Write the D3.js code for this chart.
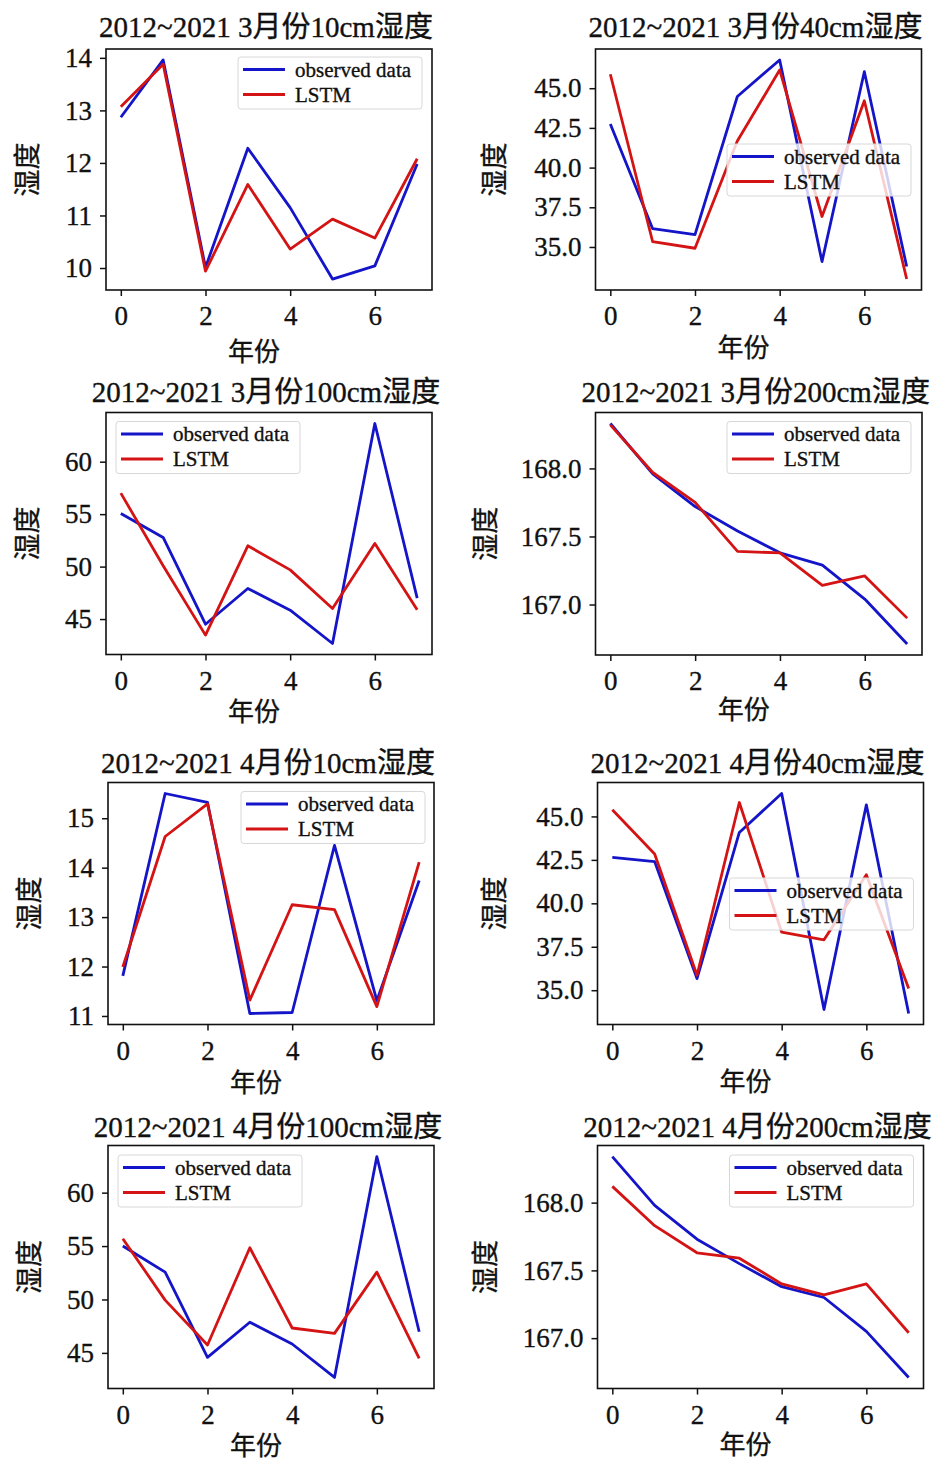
<!DOCTYPE html>
<html>
<head>
<meta charset="utf-8">
<script src="https://cdn.jsdelivr.net/npm/d3@7"></script>
<style>
  body { margin: 0; background: #fff; }
  text { font-family: "Liberation Serif", "Times New Roman", "Noto Sans CJK SC", serif; fill: #111; stroke: #111; stroke-width: 0.35px; }
</style>
</head>
<body>
<div id="chart"></div>
<script>
// x axis: year index
var years = [0, 1, 2, 3, 4, 5, 6, 7]
var xTicks = [0, 2, 4, 6]
var titles = [
  '2012~2021 3月份10cm湿度', '2012~2021 3月份40cm湿度',
  '2012~2021 3月份100cm湿度', '2012~2021 3月份200cm湿度',
  '2012~2021 4月份10cm湿度', '2012~2021 4月份40cm湿度',
  '2012~2021 4月份100cm湿度', '2012~2021 4月份200cm湿度'
]
var seriesNames = ['observed data', 'LSTM']

// observed data
var obs_m3_10 = [12.87, 13.96, 10.01, 12.28, 11.15, 9.79, 10.04, 11.98]
var obs_m3_40 = [42.75, 36.15, 35.78, 44.48, 46.78, 34.08, 46.04, 33.77]
var obs_m3_100 = [55.06, 52.78, 44.51, 47.91, 45.85, 42.67, 63.64, 47.0]
var obs_m3_200 = [168.33, 167.96, 167.72, 167.54, 167.38, 167.29, 167.04, 166.71]
var obs_m4_10 = [11.81, 15.50, 15.32, 11.05, 11.07, 14.45, 11.31, 13.74]
var obs_m4_40 = [42.65, 42.40, 35.67, 44.08, 46.32, 33.89, 45.67, 33.66]
var obs_m4_100 = [55.0, 52.56, 44.58, 47.87, 45.83, 42.70, 63.38, 46.98]
var obs_m4_200 = [168.34, 167.98, 167.73, 167.55, 167.38, 167.30, 167.05, 166.71]

// LSTM predictions
var lstm_m3_10 = [13.07, 13.88, 9.94, 11.59, 10.36, 10.93, 10.57, 12.08]
var lstm_m3_40 = [45.88, 35.33, 34.92, 41.67, 46.15, 36.92, 44.21, 32.98]
var lstm_m3_100 = [57.0, 50.08, 43.47, 51.98, 49.69, 46.0, 52.2, 45.88]
var lstm_m3_200 = [168.32, 167.97, 167.75, 167.39, 167.38, 167.14, 167.21, 166.90]
var lstm_m4_10 = [11.99, 14.63, 15.29, 11.32, 13.25, 13.15, 11.19, 14.11]
var lstm_m4_40 = [45.38, 42.84, 35.86, 45.80, 38.34, 37.90, 41.65, 35.10]
var lstm_m4_100 = [55.69, 49.94, 45.74, 54.84, 47.33, 46.83, 52.56, 44.49]
var lstm_m4_200 = [168.12, 167.83, 167.63, 167.59, 167.40, 167.32, 167.40, 167.04]

// y tick values
var yt_10a = [10, 11, 12, 13, 14]
var yt_40 = [35, 37.5, 40, 42.5, 45]
var yt_100 = [45, 50, 55, 60]
var yt_200 = [167, 167.5, 168]
var yt_10b = [11, 12, 13, 14, 15]

var svg = d3.select('#chart').append('svg')
  .attr('width', 936)
  .attr('height', 1459)

var blue = '#1414c8'
var red = '#d41414'

// panel layout: box edges, legend corner, label centres
var panels = [
  {obs: obs_m3_10, lstm: lstm_m3_10, yt: yt_10a, fmt: d3.format('d'), l: 106, r: 432, t: 49, b: 290, lg: [238, 57], ylx: 28, xly: 352, tty: 27},
  {obs: obs_m3_40, lstm: lstm_m3_40, yt: yt_40, fmt: d3.format('.1f'), l: 595.5, r: 921.5, t: 49, b: 290, lg: [727, 144], ylx: 495, xly: 348, tty: 27},
  {obs: obs_m3_100, lstm: lstm_m3_100, yt: yt_100, fmt: d3.format('d'), l: 106, r: 432, t: 412.5, b: 654.5, lg: [116, 421.5], ylx: 28, xly: 712, tty: 392},
  {obs: obs_m3_200, lstm: lstm_m3_200, yt: yt_200, fmt: d3.format('.1f'), l: 595.5, r: 922, t: 412.5, b: 655, lg: [727, 421.5], ylx: 486, xly: 710, tty: 392},
  {obs: obs_m4_10, lstm: lstm_m4_10, yt: yt_10b, fmt: d3.format('d'), l: 108, r: 434, t: 782.5, b: 1024.5, lg: [241, 791.5], ylx: 30, xly: 1083, tty: 763},
  {obs: obs_m4_40, lstm: lstm_m4_40, yt: yt_40, fmt: d3.format('.1f'), l: 597.5, r: 923.5, t: 782.5, b: 1024.5, lg: [729.5, 878], ylx: 495, xly: 1082, tty: 763},
  {obs: obs_m4_100, lstm: lstm_m4_100, yt: yt_100, fmt: d3.format('d'), l: 108, r: 434, t: 1145.5, b: 1388.5, lg: [118, 1155], ylx: 30, xly: 1446, tty: 1127},
  {obs: obs_m4_200, lstm: lstm_m4_200, yt: yt_200, fmt: d3.format('.1f'), l: 597.5, r: 923.5, t: 1145.5, b: 1388.5, lg: [729.5, 1155], ylx: 486, xly: 1445, tty: 1127}
]

panels.forEach(function(p, i){
  var g = svg.append('g')

  // matplotlib-like autoscale: 5% margins
  var all = p.obs.concat(p.lstm)
  var lo = d3.min(all), hi = d3.max(all), m = (hi - lo) * 0.05
  var x = d3.scaleLinear().domain([-0.35, 7.35]).range([p.l, p.r])
  var y = d3.scaleLinear().domain([lo - m, hi + m]).range([p.b, p.t])

  var line = d3.line()
    .x(function(d, k){ return x(years[k]) })
    .y(function(d){ return y(d) })

  g.append('path').datum(p.obs)
    .attr('d', line).attr('fill', 'none')
    .attr('stroke', blue).attr('stroke-width', 2.8).attr('stroke-linejoin', 'round')
  g.append('path').datum(p.lstm)
    .attr('d', line).attr('fill', 'none')
    .attr('stroke', red).attr('stroke-width', 2.8).attr('stroke-linejoin', 'round')

  // axes
  var xa = g.append('g').attr('transform', 'translate(0,' + p.b + ')')
    .call(d3.axisBottom(x).tickValues(xTicks).tickSize(6).tickPadding(10).tickFormat(d3.format('d')))
  var ya = g.append('g').attr('transform', 'translate(' + p.l + ',0)')
    .call(d3.axisLeft(y).tickValues(p.yt).tickSize(6).tickPadding(8).tickFormat(p.fmt))
  ;[xa, ya].forEach(function(a){
    a.select('.domain').remove()
    a.selectAll('line').attr('stroke', '#111').attr('stroke-width', 1.5)
    a.selectAll('text').attr('font-size', 27).attr('fill', '#111')
      .style('font-family', '"Liberation Serif", serif')
  })

  // frame
  g.append('rect')
    .attr('x', p.l).attr('y', p.t)
    .attr('width', p.r - p.l).attr('height', p.b - p.t)
    .attr('fill', 'none').attr('stroke', '#111').attr('stroke-width', 1.6)

  // title and labels
  g.append('text')
    .attr('x', (p.l + p.r) / 2 - 3).attr('y', p.tty)
    .attr('text-anchor', 'middle').attr('dominant-baseline', 'central')
    .attr('font-size', 29)
    .text(titles[i])
  g.append('text')
    .attr('x', (p.l + p.r) / 2 - 15).attr('y', p.xly)
    .attr('text-anchor', 'middle').attr('dominant-baseline', 'central')
    .attr('font-size', 26)
    .text('年份')
  g.append('text')
    .attr('transform', 'translate(' + p.ylx + ',' + ((p.t + p.b) / 2) + ') rotate(-90)')
    .attr('text-anchor', 'middle').attr('dominant-baseline', 'central')
    .attr('font-size', 27)
    .text('湿度')

  // legend
  var lx = p.lg[0], ly = p.lg[1]
  var lg = g.append('g').attr('transform', 'translate(' + lx + ',' + ly + ')')
  lg.append('rect')
    .attr('width', 184).attr('height', 52).attr('rx', 3)
    .attr('fill', 'rgba(255,255,255,0.8)').attr('stroke', '#d8d8d8').attr('stroke-width', 1)
  seriesNames.forEach(function(name, k){
    lg.append('line')
      .attr('x1', 5).attr('x2', 47)
      .attr('y1', 12.5 + k * 25).attr('y2', 12.5 + k * 25)
      .attr('stroke', k == 0 ? blue : red).attr('stroke-width', 2.8)
    lg.append('text')
      .attr('x', 57).attr('y', 12.5 + k * 25)
      .attr('dominant-baseline', 'central')
      .attr('font-size', 21)
      .text(name)
  })
})
</script>
</body>
</html>
